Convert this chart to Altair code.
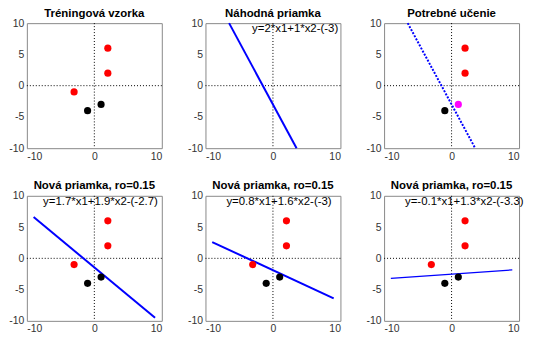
import altair as alt
import pandas as pd

# ---------------- data ----------------
titles = ["Tréningová vzorka", "Náhodná priamka", "Potrebné učenie",
          "Nová priamka, ro=0.15", "Nová priamka, ro=0.15", "Nová priamka, ro=0.15"]

# training sample
red_x = [2, 2, -3]
red_y = [6, 2, -1]
black_x = [-1, 1]
black_y = [-4, -3]

# panel 3: points shown, misclassified point highlighted
p3_red_x = [2, 2]
p3_red_y = [6, 2]
p3_black_x = [-1]
p3_black_y = [-4]
p3_mag_x = [1]
p3_mag_y = [-3]

# separating lines (endpoints)
line2_x = [-6.5, 3.5]
line2_y = [10, -10]
line4_x = [-9, 9]
line4_y = [6.6, -9.5]
line5_x = [-9, 9]
line5_y = [2.6, -6.4]
line6_x = [-9, 9]
line6_y = [-3.2, -1.85]

# equation labels
eq_labels = ["y=2*x1+1*x2-(-3)", "y=1.7*x1+1.9*x2-(-2.7)",
             "y=0.8*x1+1.6*x2-(-3)", "y=-0.1*x1+1.3*x2-(-3.3)"]
eq_x = [-3.1, -7.6, -6.9, -6.9]
eq_y = [9, 9, 9, 9]

x_ticks = [-10, 0, 10]
y_ticks = [-10, -5, 0, 5, 10]

FONT = "Liberation Sans"
W, H = 136, 126


def X(field):
    return alt.X(f"{field}:Q",
                 scale=alt.Scale(domain=[-10, 10], nice=False, zero=False),
                 axis=alt.Axis(values=x_ticks, title=None, grid=False, ticks=False,
                               domain=False, labelFont=FONT, labelFontSize=10.5,
                               labelColor="#333", labelPadding=3,
                               labelExpr="'' + datum.value"))


def Y(field):
    return alt.Y(f"{field}:Q",
                 scale=alt.Scale(domain=[-10, 10], nice=False, zero=False),
                 axis=alt.Axis(values=y_ticks, title=None, grid=False, ticks=False,
                               domain=False, labelFont=FONT, labelFontSize=10.5,
                               labelColor="#333", labelPadding=3,
                               labelExpr="'' + datum.value"))


zero_df = pd.DataFrame({"v": [0]})


def zero_lines():
    v = alt.Chart(zero_df).mark_rule(color="black", strokeWidth=1,
                                     strokeDash=[1, 2]).encode(x=X("v"))
    h = alt.Chart(zero_df).mark_rule(color="black", strokeWidth=1,
                                     strokeDash=[1, 2]).encode(y=Y("v"))
    return [v, h]


def pts(xs, ys, color):
    df = pd.DataFrame({"x": xs, "y": ys})
    return alt.Chart(df).mark_circle(size=52, opacity=1, color=color).encode(
        x=X("x"), y=Y("y"))


def line(xs, ys, width=2, dash=None):
    df = pd.DataFrame({"x": xs, "y": ys})
    kw = dict(color="blue", strokeWidth=width)
    if dash:
        kw["strokeDash"] = dash
    return alt.Chart(df).mark_line(**kw).encode(x=X("x"), y=Y("y"))


def label(i):
    df = pd.DataFrame({"x": [eq_x[i]], "y": [eq_y[i]], "t": [eq_labels[i]]})
    return alt.Chart(df).mark_text(align="left", baseline="middle", font=FONT,
                                   fontSize=11.5, color="black").encode(
        x=X("x"), y=Y("y"), text="t:N")


def panel(i, layers):
    return alt.layer(*layers).properties(
        width=W, height=H,
        title=alt.TitleParams(titles[i], font=FONT, fontSize=11.5,
                              fontWeight="bold", color="black", offset=-1))


p1 = panel(0, zero_lines() + [pts(red_x, red_y, "red"),
                              pts(black_x, black_y, "black")])
p2 = panel(1, zero_lines() + [line(line2_x, line2_y), label(0)])
p3 = panel(2, zero_lines() + [line(line2_x, line2_y, 2, [2, 1.5]),
                              pts(p3_red_x, p3_red_y, "red"),
                              pts(p3_black_x, p3_black_y, "black"),
                              pts(p3_mag_x, p3_mag_y, "magenta")])
p4 = panel(3, zero_lines() + [line(line4_x, line4_y),
                              pts(red_x, red_y, "red"),
                              pts(black_x, black_y, "black"), label(1)])
p5 = panel(4, zero_lines() + [line(line5_x, line5_y),
                              pts(red_x, red_y, "red"),
                              pts(black_x, black_y, "black"), label(2)])
p6 = panel(5, zero_lines() + [line(line6_x, line6_y, 1.3),
                              pts(red_x, red_y, "red"),
                              pts(black_x, black_y, "black"), label(3)])

chart = alt.concat(p1, p2, p3, p4, p5, p6, columns=3,
                   spacing={"row": 48, "column": 44}, bounds="flush").properties(
    padding={"left": 0, "top": -2, "right": 0, "bottom": 0}
).configure_view(stroke="#888", strokeWidth=1)

chart.save("out.html", embed_options={"renderer": "svg", "actions": False})
